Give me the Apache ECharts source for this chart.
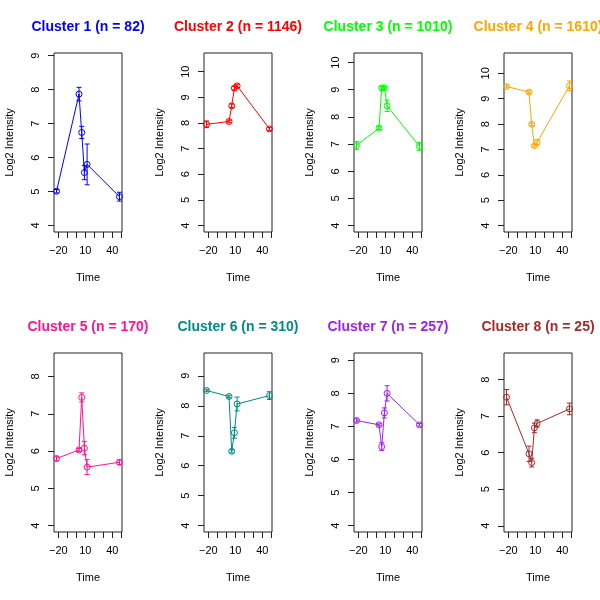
<!DOCTYPE html>
<html>
<head>
<meta charset="utf-8">
<script src="https://cdn.jsdelivr.net/npm/echarts@6/dist/echarts.min.js"></script>
<style>html,body{margin:0;padding:0;background:#fff}#c{width:600px;height:600px}</style>
</head>
<body>
<div id="c"></div>
<script>
// ---- data ----
const times = [-22, 3, 6, 9, 12, 48];
const xTicks = [-20, -10, 0, 10, 20, 30, 40, 50];
const xLabels = [-20, 10, 40];

const titles = ["Cluster 1 (n = 82)", "Cluster 2 (n = 1146)", "Cluster 3 (n = 1010)", "Cluster 4 (n = 1610)",
                "Cluster 5 (n = 170)", "Cluster 6 (n = 310)", "Cluster 7 (n = 257)", "Cluster 8 (n = 25)"];
const colors = ["#0000FF", "#FF0000", "#00FF00", "#FFA500", "#FF1493", "#008B8B", "#A020F0", "#A52A2A"];

const mean1 = [5.01, 7.87, 6.74, 5.56, 5.80, 4.85];
const se1   = [0.05, 0.20, 0.18, 0.21, 0.60, 0.13];
const mean2 = [7.95, 8.06, 8.67, 9.36, 9.45, 7.77];
const se2   = [0.13, 0.05, 0.07, 0.07, 0.06, 0.06];
const mean3 = [6.95, 7.59, 9.07, 9.07, 8.41, 6.92];
const se3   = [0.15, 0.05, 0.05, 0.05, 0.21, 0.15];
const mean4 = [9.48, 9.26, 7.99, 7.15, 7.28, 9.51];
const se4   = [0.06, 0.05, 0.05, 0.05, 0.10, 0.19];
const mean5 = [5.80, 6.03, 7.44, 6.08, 5.57, 5.70];
const se5   = [0.06, 0.04, 0.12, 0.18, 0.20, 0.06];
const mean6 = [8.51, 8.31, 6.48, 7.10, 8.06, 8.34];
const se6   = [0.04, 0.04, 0.05, 0.18, 0.23, 0.13];
const mean7 = [7.18, 7.05, 6.39, 7.41, 8.00, 7.05];
const se7   = [0.05, 0.03, 0.12, 0.15, 0.23, 0.04];
const mean8 = [7.52, 5.97, 5.73, 6.68, 6.80, 7.20];
const se8   = [0.21, 0.21, 0.12, 0.13, 0.10, 0.16];

const yTicks1 = [4, 5, 6, 7, 8, 9];
const yTicks2 = [4, 5, 6, 7, 8, 9, 10];
const yTicks3 = [4, 5, 6, 7, 8, 9, 10];
const yTicks4 = [4, 5, 6, 7, 8, 9, 10];
const yTicks5 = [4, 5, 6, 7, 8];
const yTicks6 = [4, 5, 6, 7, 8, 9];
const yTicks7 = [4, 5, 6, 7, 8, 9];
const yTicks8 = [4, 5, 6, 7, 8];

const means = [mean1, mean2, mean3, mean4, mean5, mean6, mean7, mean8];
const ses = [se1, se2, se3, se4, se5, se6, se7, se8];
const yTicks = [yTicks1, yTicks2, yTicks3, yTicks4, yTicks5, yTicks6, yTicks7, yTicks8];
const yMin = [3.81, 3.75, 3.77, 3.75, 3.83, 3.79, 3.81, 3.83];
const yMax = [9.08, 10.73, 10.35, 10.8, 8.63, 9.76, 9.22, 8.73];

// ---- layout ----
const FONT = "Liberation Sans";
const grids = [], xAxes = [], yAxes = [], series = [], graphics = [];
for (let i = 0; i < 8; i++) {
  const col = i % 4, row = Math.floor(i / 4);
  const left = 54 + 150 * col, top = 53 + 300 * row;
  grids.push({left: left, top: top, width: 68, height: 179, show: true,
              borderColor: "#222", borderWidth: 1, backgroundColor: "transparent"});
  xAxes.push({type: "value", gridIndex: i, min: -24.8, max: 50.8,
    name: "Time", nameLocation: "middle", nameGap: 40,
    nameTextStyle: {color: "#000", fontSize: 11, fontFamily: FONT},
    axisLine: {show: false, onZero: false}, splitLine: {show: false},
    axisTick: {show: true, length: 6, customValues: xTicks, lineStyle: {color: "#222"}},
    axisLabel: {customValues: xLabels, margin: 13, color: "#000", fontSize: 11, fontFamily: FONT,
                formatter: v => (v < 0 ? "\u2212" + Math.abs(v) : String(v))}});
  yAxes.push({type: "value", gridIndex: i, min: yMin[i], max: yMax[i],
    name: "Log2 Intensity", nameLocation: "middle", nameGap: 39, nameRotate: 90,
    nameTextStyle: {color: "#000", fontSize: 11, fontFamily: FONT},
    axisLine: {show: false, onZero: false}, splitLine: {show: false},
    axisTick: {show: true, length: 6, customValues: yTicks[i], lineStyle: {color: "#222"}},
    axisLabel: {customValues: yTicks[i], rotate: 90, margin: 13, color: "#000", fontSize: 11, fontFamily: FONT}});
  const c = colors[i];
  series.push({type: "line", xAxisIndex: i, yAxisIndex: i,
    data: times.map((t, k) => [t, means[i][k]]),
    symbol: "circle", symbolSize: 6, showSymbol: true,
    lineStyle: {color: c, width: 1},
    itemStyle: {color: "rgba(255,255,255,0)", borderColor: c, borderWidth: 1},
    emphasis: {disabled: true},
    animation: false, z: 3});
  series.push({type: "custom", xAxisIndex: i, yAxisIndex: i,
    data: times.map((t, k) => [t, means[i][k], ses[i][k]]),
    renderItem: function (params, api) {
      const x = api.value(0), m = api.value(1), e = api.value(2);
      const p1 = api.coord([x, m + e]), p2 = api.coord([x, m - e]);
      const w = 2.5, st = {stroke: c, lineWidth: 1};
      return {type: "group", children: [
        {type: "line", shape: {x1: p1[0], y1: p1[1], x2: p2[0], y2: p2[1]}, style: st},
        {type: "line", shape: {x1: p1[0] - w, y1: p1[1], x2: p1[0] + w, y2: p1[1]}, style: st},
        {type: "line", shape: {x1: p2[0] - w, y1: p2[1], x2: p2[0] + w, y2: p2[1]}, style: st}
      ]};
    }, animation: false, z: 2});
  graphics.push({type: "text", x: 88 + 150 * col, y: 27 + 300 * row,
    style: {text: titles[i], fill: c, font: "bold 14px " + FONT, textAlign: "center", textVerticalAlign: "middle"}});
}

const chart = echarts.init(document.getElementById("c"), null, {renderer: "canvas"});
chart.setOption({animation: false, backgroundColor: "#fff",
  grid: grids, xAxis: xAxes, yAxis: yAxes, series: series, graphic: graphics});
</script>
</body>
</html>
